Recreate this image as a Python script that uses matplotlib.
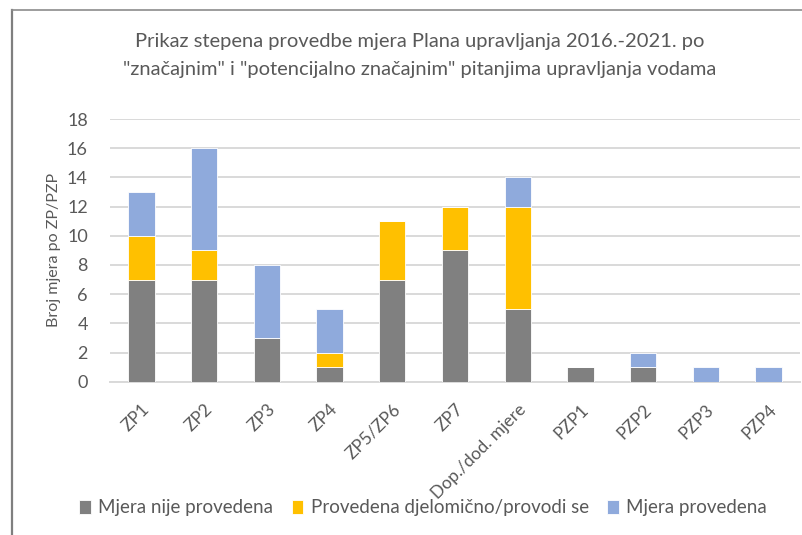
import matplotlib
matplotlib.use("Agg")
import matplotlib.pyplot as plt
from matplotlib.lines import Line2D
import numpy as np

plt.rcParams['font.family'] = ['Lato', 'DejaVu Sans']

categories = ["ZP1", "ZP2", "ZP3", "ZP4", "ZP5/ZP6", "ZP7", "Dop./dod. mjere",
              "PZP1", "PZP2", "PZP3", "PZP4"]
not_done = [7, 7, 3, 1, 7, 9, 5, 1, 1, 0, 0]
partial = [3, 2, 0, 1, 4, 3, 7, 0, 0, 0, 0]
done = [3, 7, 5, 3, 0, 0, 2, 0, 1, 1, 1]

series_names = ["Mjera nije provedena", "Provedena djelomično/provodi se", "Mjera provedena"]
colors = ["#808080", "#ffc000", "#8faadc"]
text_color = "#595959"

W, H = 803, 535
fig = plt.figure(figsize=(W / 100, H / 100), dpi=100)
ax = fig.add_axes([110 / W, 1 - 381.7 / H, 690 / W, 262.7 / H])

x = np.arange(len(categories))
bottom = np.zeros(len(categories))
for vals, name, c in zip([not_done, partial, done], series_names, colors):
    vals = np.array(vals, dtype=float)
    ax.bar(x, vals, width=0.42, bottom=bottom, color=c, label=name,
           edgecolor="white", linewidth=0.6, zorder=3)
    bottom += vals

ax.set_xlim(-0.5, len(categories) - 0.5)
ax.set_ylim(0, 18)
ax.set_yticks(np.arange(0, 19, 2))
ax.yaxis.grid(True, color="#d9d9d9", linewidth=1.4, zorder=0)
for s in ["top", "right", "left"]:
    ax.spines[s].set_visible(False)
ax.spines["bottom"].set_color("#d9d9d9")
ax.spines["bottom"].set_linewidth(1.4)
ax.tick_params(axis="both", length=0, colors=text_color, labelsize=13)
ax.tick_params(axis="y", pad=16)
ax.set_xticks(x)
ax.set_xticklabels(categories, rotation=45, ha="right", rotation_mode="anchor",
                   fontsize=12.5)
ax.tick_params(axis="x", pad=14)

ax.set_ylabel("Broj mjera po ZP/PZP", color=text_color, fontsize=11.5, labelpad=4)

fig.text(0.523, 1 - 42 / H, "Prikaz stepena provedbe mjera Plana upravljanja 2016.-2021. po",
         ha="center", va="center", fontsize=14.5, color=text_color)
fig.text(0.523, 1 - 70 / H, "\"značajnim\" i \"potencijalno značajnim\" pitanjima upravljanja vodama",
         ha="center", va="center", fontsize=14.5, color=text_color)

fig.legend(loc="center", bbox_to_anchor=(0.527, 1 - 508 / H), ncol=3, frameon=False,
           fontsize=13.5, handlelength=0.6, handleheight=0.7, handletextpad=0.4,
           columnspacing=1.0, labelcolor=text_color)

# frame lines along top and left
fig.add_artist(Line2D([12 / W, 12 / W], [0, 1 - 10 / H], color="#7f7f7f", linewidth=1.6,
                      transform=fig.transFigure))
fig.add_artist(Line2D([12 / W, 1], [1 - 10 / H, 1 - 10 / H], color="#8c8c8c", linewidth=1.2,
                      transform=fig.transFigure))

fig.savefig("out.png", dpi=100)
